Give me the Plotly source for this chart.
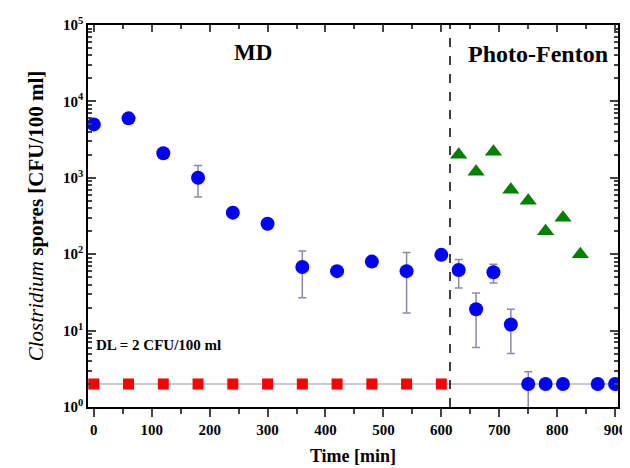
import plotly.graph_objects as go

# ---- data ----
md_time = [0, 60, 120, 180, 240, 300, 360, 420, 480, 540, 600]
md_val = [5000, 6000, 2100, 1000, 350, 250, 68, 60, 80, 60, 98]
md_hi = [5000, 6000, 2100, 1450, 350, 250, 110, 60, 80, 105, 98]
md_lo = [5000, 6000, 2100, 560, 350, 250, 27, 60, 80, 17, 98]

pf_time = [630, 660, 690, 720, 750, 780, 810, 870, 900]
pf_val = [62, 19, 58, 12, 2, 2, 2, 2, 2]
pf_hi = [85, 31, 74, 19, 2.9, 2, 2, 2, 2]
pf_lo = [36, 6, 42, 5, 0.8, 2, 2, 2, 2]

tri_time = [630, 660, 690, 720, 750, 780, 810, 840]
tri_val = [2000, 1200, 2200, 700, 500, 200, 300, 100]

dl_time = [0, 60, 120, 180, 240, 300, 360, 420, 480, 540, 600]
dl_val = [2] * 11

dl_level = 2
switch_time = 615
x_ticks = [0, 100, 200, 300, 400, 500, 600, 700, 800, 900]
x_minor = [50, 150, 250, 350, 450, 550, 650, 750, 850]
x_ticklabels = ["<b>%d</b>" % v for v in x_ticks]
y_ticks = [1, 10, 100, 1000, 10000, 100000]
y_ticklabels = ["<b>10<sup>0</sup></b>", "<b>10<sup>1</sup></b>", "<b>10<sup>2</sup></b>",
                "<b>10<sup>3</sup></b>", "<b>10<sup>4</sup></b>", "<b>10<sup>5</sup></b>"]

FONT = "Liberation Serif"
err_color = "#8a8aa8"
X_RANGE = [-10, 905]

fig = go.Figure()

# detection limit line
fig.add_shape(type="line", xref="paper", yref="y", x0=0, x1=1, y0=dl_level, y1=dl_level,
              line=dict(color="#cccccc", width=2), layer="below")
# switch line
fig.add_shape(type="line", xref="x", yref="paper", x0=switch_time, x1=switch_time, y0=0, y1=1,
              line=dict(color="black", width=1.5, dash="dash"))

all_t = md_time + pf_time
all_v = md_val + pf_val
all_hi = md_hi + pf_hi
all_lo = md_lo + pf_lo

fig.add_trace(go.Scatter(
    x=dl_time, y=dl_val, mode="markers",
    marker=dict(symbol="square", size=11, color="#ff0000"), showlegend=False))

fig.add_trace(go.Scatter(
    x=all_t, y=all_v, mode="markers",
    marker=dict(symbol="circle", size=14, color="#0000ff"),
    error_y=dict(type="data", symmetric=False,
                 array=[h - v for h, v in zip(all_hi, all_v)],
                 arrayminus=[v - l for v, l in zip(all_v, all_lo)],
                 color=err_color, thickness=1.5, width=4),
    showlegend=False))

fig.add_trace(go.Scatter(
    x=tri_time, y=tri_val, mode="markers",
    marker=dict(symbol="triangle-up", size=15, color="#008000"), showlegend=False))

# invisible trace for top axis
fig.add_trace(go.Scatter(x=[0], y=[1], xaxis="x2", mode="markers",
                         marker=dict(opacity=0), showlegend=False, hoverinfo="skip"))

fig.add_annotation(x=0.311, y=0.929, xref="paper", yref="paper", text="<b>MD</b>",
                   xanchor="center", yanchor="middle",
                   showarrow=False, font=dict(family=FONT, size=23, color="black"))
fig.add_annotation(x=0.849, y=0.925, xref="paper", yref="paper", text="<b>Photo-Fenton</b>",
                   xanchor="center", yanchor="middle",
                   showarrow=False, font=dict(family=FONT, size=24, color="black"))
fig.add_annotation(x=0.012, y=0.162, xref="paper", yref="paper", text="<b>DL = 2 CFU/100 ml</b>",
                   showarrow=False, xanchor="left", yanchor="middle",
                   font=dict(family=FONT, size=15, color="black"))

minor_vals = [m * 10 ** k for k in range(0, 5) for m in range(2, 10)]

fig.update_layout(
    width=622, height=460,
    margin=dict(l=80, r=12, t=17, b=61),
    paper_bgcolor="white", plot_bgcolor="white",
    font=dict(family=FONT, size=15, color="black"),
    xaxis=dict(range=X_RANGE, tickvals=x_ticks, ticktext=x_ticklabels, ticks="outside", ticklen=8,
               tickwidth=1.5, showline=True, linecolor="black", linewidth=1.5, mirror=True,
               showgrid=False, zeroline=False, automargin=False,
               tickfont=dict(family=FONT, size=15),
               minor=dict(tickvals=x_minor, ticks="outside", ticklen=5),
               title=dict(text="<b>Time [min]</b>", font=dict(family=FONT, size=18), standoff=13)),
    xaxis2=dict(range=X_RANGE, overlaying="x", side="top", tickvals=x_ticks, ticks="inside",
                ticklen=7, tickwidth=1.5, showticklabels=False, showgrid=False, zeroline=False,
                showline=False, automargin=False,
                minor=dict(tickvals=x_minor, ticks="inside", ticklen=4)),
    yaxis=dict(type="log", range=[0, 5], tickvals=y_ticks, ticktext=y_ticklabels,
               ticks="inside", ticklen=8, tickwidth=1.5, showline=True, linecolor="black",
               linewidth=1.5, mirror="ticks", showgrid=False, zeroline=False, automargin=False,
               tickfont=dict(family=FONT, size=15),
               minor=dict(tickvals=minor_vals, ticks="inside", ticklen=4),
               title=dict(text="<i>Clostridium</i><b> spores [CFU/100 ml]</b>",
                          font=dict(family=FONT, size=21), standoff=14)),
)

fig.write_html("out.html")
